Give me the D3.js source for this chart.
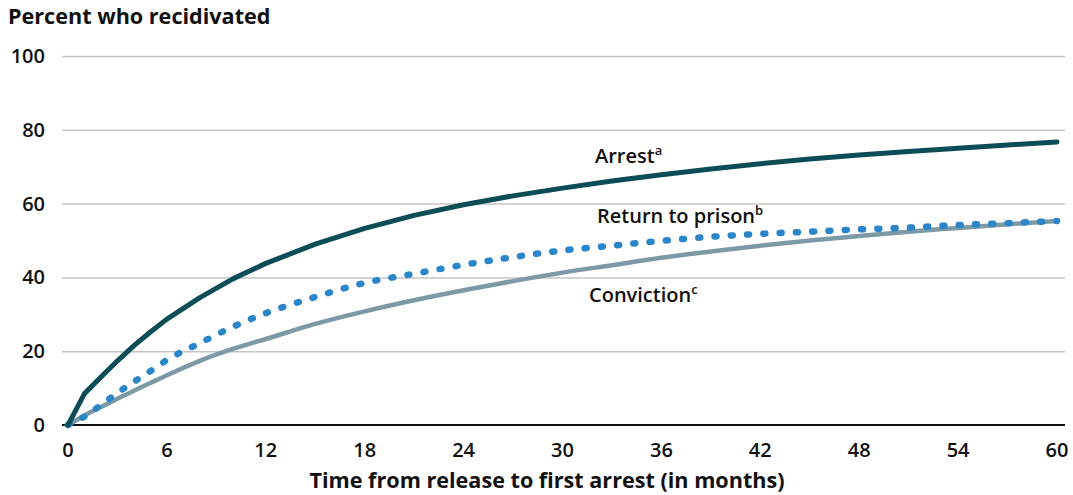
<!DOCTYPE html>
<meta charset="utf-8">
<style>
    body { margin: 0; background: #fff; }
    text { font-family: "Open Sans", "Noto Sans", sans-serif; fill: #111; }
    .grid line { stroke: #c4c4c4; stroke-width: 1.5px; }
    .grid path { display: none; }
    .tick-label { font-size: 20px; font-weight: 600; }
    .title { font-size: 21.6px; font-weight: 700; }
    .series-label { font-size: 20px; font-weight: 600; }
    .sup { font-size: 13px; }
    .line { fill: none; }
</style>
<svg width="1073" height="495"></svg>
<script src="https://cdn.jsdelivr.net/npm/d3@7"></script>
<script>
    const months = [0, 1, 2, 3, 4, 5, 6, 8, 10, 12, 15, 18, 21, 24, 27, 30, 33, 36, 39, 42, 45, 48, 51, 54, 57, 60];
    const arrest = [0, 8.5, 13, 17.4, 21.5, 25.2, 28.7, 34.5, 39.6, 43.8, 49, 53.3, 56.8, 59.7, 62.1, 64.2, 66.1, 67.8, 69.4, 70.8, 72.1, 73.2, 74.1, 75, 75.9, 76.7];
    const prison = [0, 2.3, 5.4, 8.7, 11.7, 14.6, 17.6, 22.2, 26.6, 30.3, 34.7, 38.5, 41, 43.4, 45.5, 47.3, 48.6, 49.9, 51, 51.8, 52.4, 53, 53.5, 54.2, 54.7, 55.3];
    const conviction = [0, 2.6, 4.9, 7.1, 9.3, 11.4, 13.5, 17.4, 20.6, 23.3, 27.4, 30.8, 33.8, 36.5, 39, 41.3, 43.3, 45.3, 47, 48.6, 50, 51.2, 52.4, 53.4, 54.4, 55.3];
    const xTicks = [0, 6, 12, 18, 24, 30, 36, 42, 48, 54, 60];
    const yTicks = [0, 20, 40, 60, 80, 100];

    const svg = d3.select("svg");

    const x = d3.scaleLinear().domain([0, 60]).range([68, 1057]);
    const y = d3.scaleLinear().domain([0, 100]).range([425, 56]);

    // Horizontal gridlines
    svg.append("g")
        .attr("class", "grid")
        .attr("transform", "translate(62,0)")
        .call(d3.axisLeft(y).tickValues(yTicks.slice(1)).tickSize(-1003).tickFormat(""));

    // Zero baseline
    svg.append("line")
        .attr("x1", 62).attr("x2", 1065)
        .attr("y1", y(0)).attr("y2", y(0))
        .attr("stroke", "#111").attr("stroke-width", 2);

    // Tick labels
    svg.append("g").selectAll("text")
        .data(yTicks)
        .join("text")
        .attr("class", "tick-label")
        .attr("x", 45)
        .attr("y", d => y(d) + 7)
        .attr("text-anchor", "end")
        .text(d => d);

    svg.append("g").selectAll("text")
        .data(xTicks)
        .join("text")
        .attr("class", "tick-label")
        .attr("x", d => x(d))
        .attr("y", 457)
        .attr("text-anchor", "middle")
        .text(d => d);

    // Titles
    svg.append("text")
        .attr("class", "title")
        .attr("x", 8)
        .attr("y", 24)
        .text("Percent who recidivated");

    svg.append("text")
        .attr("class", "title")
        .attr("x", 547)
        .attr("y", 488)
        .attr("text-anchor", "middle")
        .text("Time from release to first arrest (in months)");

    // arrest has a sharp kink at month 1, so it stays linear
    const line = d3.line()
        .x((d, i) => x(months[i]))
        .y(d => y(d));

    const smooth = d3.line()
        .x((d, i) => x(months[i]))
        .y(d => y(d))
        .curve(d3.curveMonotoneX);

    svg.append("path")
        .datum(conviction)
        .attr("class", "line")
        .attr("d", smooth)
        .attr("stroke", "#7b9aa5")
        .attr("stroke-width", 4.5);

    svg.append("path")
        .datum(prison)
        .attr("class", "line")
        .attr("d", smooth)
        .attr("stroke", "#2a85c9")
        .attr("stroke-width", 6.5)
        .attr("stroke-linecap", "round")
        .attr("stroke-dasharray", "2,14.3");

    svg.append("path")
        .datum(arrest)
        .attr("class", "line")
        .attr("d", line)
        .attr("stroke", "#0b4d57")
        .attr("stroke-width", 5)
        .attr("stroke-linecap", "round")
        .attr("stroke-linejoin", "round");

    // Series labels
    const labels = [
        { name: "Arrest", sup: "a", x: 595, y: 163 },
        { name: "Return to prison", sup: "b", x: 597, y: 223 },
        { name: "Conviction", sup: "c", x: 589, y: 302 }
    ];
    labels.forEach(l => {
        const t = svg.append("text")
            .attr("class", "series-label")
            .attr("x", l.x)
            .attr("y", l.y);
        t.append("tspan").text(l.name);
        t.append("tspan").attr("class", "sup").attr("dy", -8).text(l.sup);
    });
</script>
